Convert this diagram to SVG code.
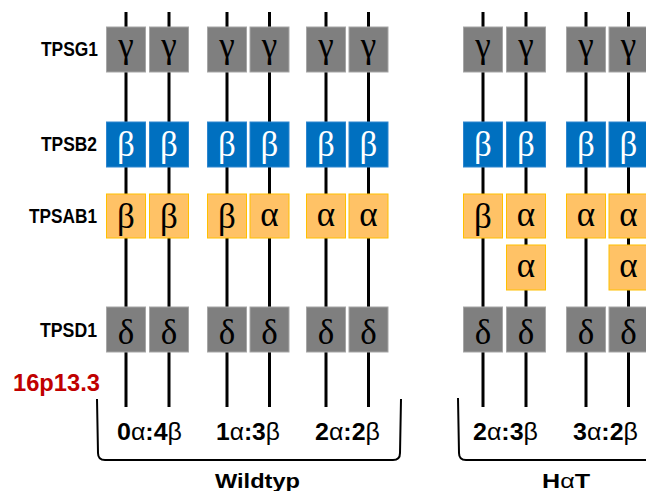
<svg xmlns="http://www.w3.org/2000/svg" width="646" height="491" viewBox="0 0 646 491">
<style>
.strand{stroke:#000;stroke-width:3;fill:none}
.brace{stroke:#000;stroke-width:2;fill:none}
.g{fill:#7F7F7F;stroke:#A6A6A6;stroke-width:1}
.b{fill:#0070C0;stroke:#2E86CF;stroke-width:1}
.o{fill:#FFC266;stroke:#FFC000;stroke-width:1}
.gk{font-family:"Liberation Serif","DejaVu Serif",serif;font-size:35px;text-anchor:middle;fill:#000}
.gkw{font-family:"Liberation Serif","DejaVu Serif",serif;font-size:35px;text-anchor:middle;fill:#fff}
.lab{font-family:"Liberation Sans",Arial,sans-serif;font-weight:bold;font-size:21px;text-anchor:end;fill:#000}
.ratio{font-family:"Liberation Sans",Arial,sans-serif;font-weight:bold;font-size:23px;text-anchor:middle;fill:#000}
.ratio .n{font-weight:normal}
.grp{font-family:"Liberation Sans",Arial,sans-serif;font-weight:bold;font-size:21px;text-anchor:middle;fill:#000}
.loc{font-family:"Liberation Sans",Arial,sans-serif;font-weight:bold;font-size:23px;fill:#C00000}
</style>

<g id="connectors">
<path class="strand" d="M126,12V407M169,12V407M227,12V407M269.5,12V407M326,12V407M368.5,12V407M483,12V407M526,12V407M586,12V407M628.5,12V407"/>
<path class="brace" d="M97,399L98,453Q98,460 105,460L393,460Q400,460 400,453L401,399"/>
<path class="brace" d="M458,398L459,453Q459,460 466,460L646,460"/>
</g>

<g id="labels">
<text class="lab" x="98" y="55.5" textLength="57" lengthAdjust="spacingAndGlyphs">TPSG1</text>
<text class="lab" x="97" y="150.5" textLength="56" lengthAdjust="spacingAndGlyphs">TPSB2</text>
<text class="lab" x="97" y="222.5" textLength="68" lengthAdjust="spacingAndGlyphs">TPSAB1</text>
<text class="lab" x="97" y="337" textLength="57" lengthAdjust="spacingAndGlyphs">TPSD1</text>
<text class="loc" x="13" y="391" textLength="87" lengthAdjust="spacingAndGlyphs">16p13.3</text>
</g>

<g id="col1">
<rect class="g" x="106.5" y="27" width="39" height="45"/><text class="gk" x="126" y="57">γ</text>
<rect class="b" x="106.5" y="122" width="39" height="45"/><text class="gkw" x="126" y="156">β</text>
<rect class="o" x="106.5" y="194" width="39" height="44"/><text class="gk" x="126" y="228">β</text>
<rect class="g" x="106.5" y="307" width="39" height="45"/><text class="gk" x="126" y="344">δ</text>
</g>
<g id="col2">
<rect class="g" x="149.5" y="27" width="39" height="45"/><text class="gk" x="169" y="57">γ</text>
<rect class="b" x="149.5" y="122" width="39" height="45"/><text class="gkw" x="169" y="156">β</text>
<rect class="o" x="149.5" y="194" width="39" height="44"/><text class="gk" x="169" y="228">β</text>
<rect class="g" x="149.5" y="307" width="39" height="45"/><text class="gk" x="169" y="344">δ</text>
</g>
<g id="col3">
<rect class="g" x="207.5" y="27" width="39" height="45"/><text class="gk" x="227" y="57">γ</text>
<rect class="b" x="207.5" y="122" width="39" height="45"/><text class="gkw" x="227" y="156">β</text>
<rect class="o" x="207.5" y="194" width="39" height="44"/><text class="gk" x="227" y="228">β</text>
<rect class="g" x="207.5" y="307" width="39" height="45"/><text class="gk" x="227" y="344">δ</text>
</g>
<g id="col4">
<rect class="g" x="250" y="27" width="39" height="45"/><text class="gk" x="269.5" y="57">γ</text>
<rect class="b" x="250" y="122" width="39" height="45"/><text class="gkw" x="269.5" y="156">β</text>
<rect class="o" x="250" y="194" width="39" height="44"/><text class="gk" x="269.5" y="226">α</text>
<rect class="g" x="250" y="307" width="39" height="45"/><text class="gk" x="269.5" y="344">δ</text>
</g>
<g id="col5">
<rect class="g" x="306.5" y="27" width="39" height="45"/><text class="gk" x="326" y="57">γ</text>
<rect class="b" x="306.5" y="122" width="39" height="45"/><text class="gkw" x="326" y="156">β</text>
<rect class="o" x="306.5" y="194" width="39" height="44"/><text class="gk" x="326" y="226">α</text>
<rect class="g" x="306.5" y="307" width="39" height="45"/><text class="gk" x="326" y="344">δ</text>
</g>
<g id="col6">
<rect class="g" x="349" y="27" width="39" height="45"/><text class="gk" x="368.5" y="57">γ</text>
<rect class="b" x="349" y="122" width="39" height="45"/><text class="gkw" x="368.5" y="156">β</text>
<rect class="o" x="349" y="194" width="39" height="44"/><text class="gk" x="368.5" y="226">α</text>
<rect class="g" x="349" y="307" width="39" height="45"/><text class="gk" x="368.5" y="344">δ</text>
</g>
<g id="col7">
<rect class="g" x="463.5" y="27" width="39" height="45"/><text class="gk" x="483" y="57">γ</text>
<rect class="b" x="463.5" y="122" width="39" height="45"/><text class="gkw" x="483" y="156">β</text>
<rect class="o" x="463.5" y="194" width="39" height="44"/><text class="gk" x="483" y="228">β</text>
<rect class="g" x="463.5" y="307" width="39" height="45"/><text class="gk" x="483" y="344">δ</text>
</g>
<g id="col8">
<rect class="g" x="506.5" y="27" width="39" height="45"/><text class="gk" x="526" y="57">γ</text>
<rect class="b" x="506.5" y="122" width="39" height="45"/><text class="gkw" x="526" y="156">β</text>
<rect class="o" x="506.5" y="194" width="39" height="44"/><text class="gk" x="526" y="226">α</text>
<rect class="o" x="506.5" y="245" width="39" height="45"/><text class="gk" x="526" y="277">α</text>
<rect class="g" x="506.5" y="307" width="39" height="45"/><text class="gk" x="526" y="344">δ</text>
</g>
<g id="col9">
<rect class="g" x="566.5" y="27" width="39" height="45"/><text class="gk" x="586" y="57">γ</text>
<rect class="b" x="566.5" y="122" width="39" height="45"/><text class="gkw" x="586" y="156">β</text>
<rect class="o" x="566.5" y="194" width="39" height="44"/><text class="gk" x="586" y="226">α</text>
<rect class="g" x="566.5" y="307" width="39" height="45"/><text class="gk" x="586" y="344">δ</text>
</g>
<g id="col10">
<rect class="g" x="609" y="27" width="39" height="45"/><text class="gk" x="628.5" y="57">γ</text>
<rect class="b" x="609" y="122" width="39" height="45"/><text class="gkw" x="628.5" y="156">β</text>
<rect class="o" x="609" y="194" width="39" height="44"/><text class="gk" x="628.5" y="226">α</text>
<rect class="o" x="609" y="245" width="39" height="45"/><text class="gk" x="628.5" y="277">α</text>
<rect class="g" x="609" y="307" width="39" height="45"/><text class="gk" x="628.5" y="344">δ</text>
</g>

<g id="ratios">
<text class="ratio" x="149.5" y="440" textLength="65" lengthAdjust="spacingAndGlyphs">0<tspan class="n">α</tspan>:4<tspan class="n">β</tspan></text>
<text class="ratio" x="248" y="440" textLength="64" lengthAdjust="spacingAndGlyphs">1<tspan class="n">α</tspan>:3<tspan class="n">β</tspan></text>
<text class="ratio" x="347.5" y="440" textLength="65" lengthAdjust="spacingAndGlyphs">2<tspan class="n">α</tspan>:2<tspan class="n">β</tspan></text>
<text class="ratio" x="505.5" y="440" textLength="65" lengthAdjust="spacingAndGlyphs">2<tspan class="n">α</tspan>:3<tspan class="n">β</tspan></text>
<text class="ratio" x="605.5" y="440" textLength="65" lengthAdjust="spacingAndGlyphs">3<tspan class="n">α</tspan>:2<tspan class="n">β</tspan></text>
</g>

<g id="groups">
<text class="grp" x="257.5" y="488" textLength="85" lengthAdjust="spacingAndGlyphs">Wildtyp</text>
<text class="grp" x="566" y="488" textLength="48" lengthAdjust="spacingAndGlyphs">H<tspan font-weight="normal">α</tspan>T</text>
</g>
</svg>
